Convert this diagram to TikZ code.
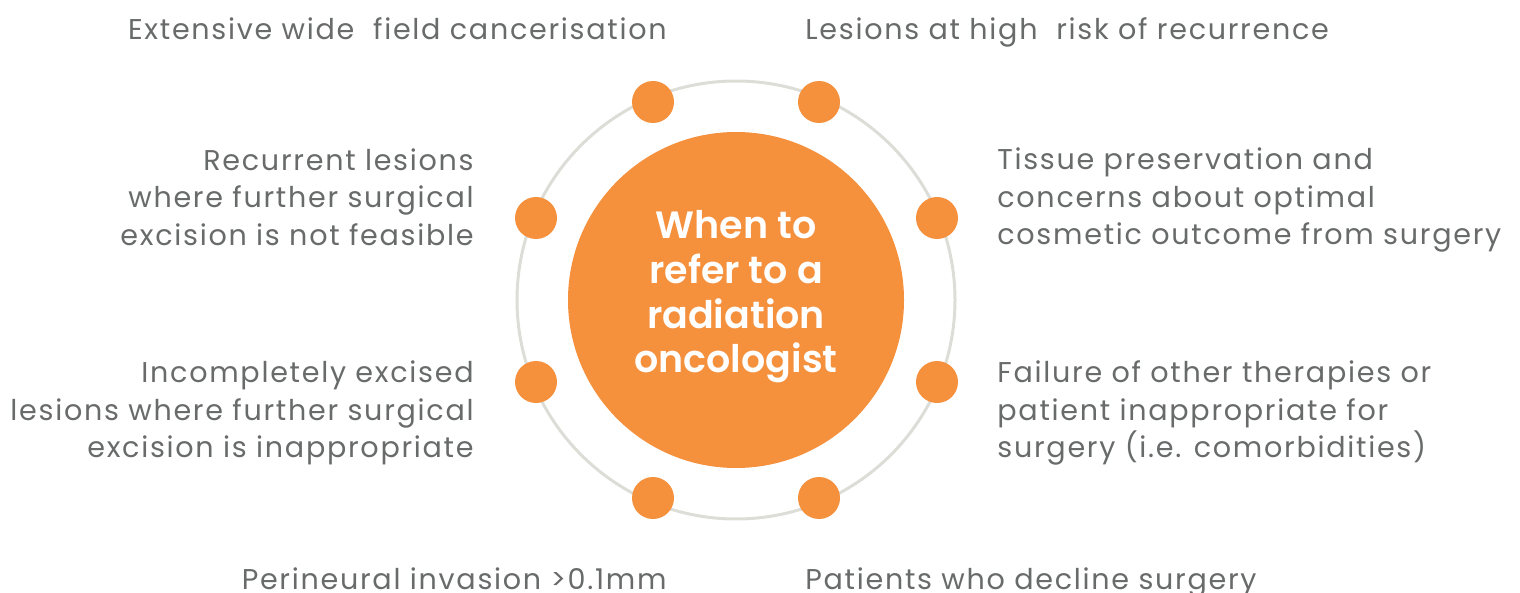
\documentclass[tikz,border=0pt]{standalone}
\usepackage{fontspec}
\setmainfont{Poppins}[BoldFont={Poppins SemiBold}]
\newfontfamily\itemfont{Poppins}[LetterSpace=6]
\definecolor{refOrange}{RGB}{245,144,61}
\definecolor{ringGrey}{RGB}{221,221,216}
\definecolor{textGrey}{RGB}{104,107,106}
\tikzset{
  refdot/.style={circle, fill=refOrange, minimum size=21pt, inner sep=0pt},
  reftext/.style={text=textGrey, font=\itemfont\fontsize{14.3}{18.75}\selectfont, inner sep=0pt},
}
\begin{document}
\begin{tikzpicture}[x=0.5pt,y=0.5pt,yscale=-1,xscale=1]
        \useasboundingbox (0,0) rectangle (1520,593);
        %Shape: Circle [ring]
        \draw [color=ringGrey, line width=1.5pt] (736,300) circle [radius=219];
        %Shape: Circle [centre]
        \node [circle, fill=refOrange, minimum size=168pt, inner sep=0pt] (centre) at (736,300) {};
        % Text Node
        \node [text=white, font=\fontsize{19}{22.3}\selectfont\bfseries, align=center, inner sep=0pt] (title) at (736,297) {When to\\refer to a\\radiation\\oncologist};

        %Shape: Dots
        \node [refdot] (d1) at (653,102) {};
        \node [refdot] (d2) at (819,102) {};
        \node [refdot] (d3) at (937,218) {};
        \node [refdot] (d4) at (937,382) {};
        \node [refdot] (d5) at (819,498) {};
        \node [refdot] (d6) at (653,498) {};
        \node [refdot] (d7) at (536,382) {};
        \node [refdot] (d8) at (536,218) {};

        % Text Node
        \node [reftext, anchor=base east] (t1) at (667,40) {Extensive wide\ \ field cancerisation};
        % Text Node
        \node [reftext, anchor=base west] (t2) at (805,40) {Lesions at high\ \ risk of recurrence};
        % Text Node
        \node [reftext, anchor=east, align=right] (t3) at (474,197) {Recurrent lesions\\where further surgical\\excision is not feasible};
        % Text Node
        \node [reftext, anchor=west, align=left] (t4) at (997,200) {Tissue preservation and\\concerns about optimal\\cosmetic outcome from surgery};
        % Text Node
        \node [reftext, anchor=east, align=right] (t5) at (474,413) {Incompletely excised\\lesions where further surgical\\excision is inappropriate};
        % Text Node
        \node [reftext, anchor=west, align=left] (t6) at (997,413) {Failure of other therapies or\\patient inappropriate for\\surgery (i.e. comorbidities)};
        % Text Node
        \node [reftext, anchor=base east] (t7) at (667,589) {Perineural invasion >0.1mm};
        % Text Node
        \node [reftext, anchor=base west] (t8) at (805,589) {Patients who decline surgery};
    \end{tikzpicture}
\end{document}
